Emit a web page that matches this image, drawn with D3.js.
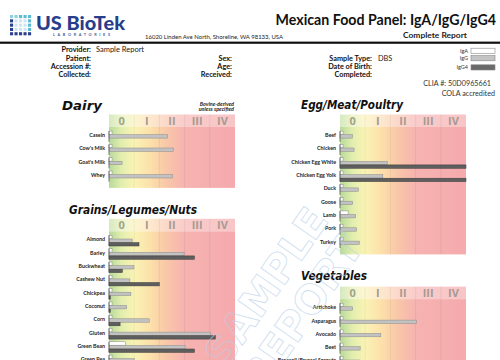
<!DOCTYPE html>
<html><head><meta charset="utf-8">
<script src="https://cdn.jsdelivr.net/npm/d3@7"></script>
<style>body{margin:0;background:#fff} svg{display:block}</style>
</head><body>
<svg id="c" width="500" height="360"></svg>
<script>
// ---------- data ----------
const classLabels = ["0","I","II","III","IV"];
const seriesNames = ["IgA","IgG","IgG4"];

const dairyFoods = ["Casein","Cow's Milk","Goat's Milk","Whey"];
const dairyIgA  = [0.12,0.12,0.12,0.12];
const dairyIgG  = [2.33,2.55,0.52,2.52];
const dairyIgG4 = [0,0,0,0];

const eggFoods = ["Beef","Chicken","Chicken Egg White","Chicken Egg Yolk","Duck","Goose","Lamb","Pork","Turkey"];
const eggIgA  = [0.12,0.12,0.12,0.12,0.12,0.12,0.32,0.12,0.12];
const eggIgG  = [0.49,0.56,1.88,1.70,0.73,0.50,0.62,0.66,0.77];
const eggIgG4 = [0,0,5,5,0,0,0,0,0];

const grainFoods = ["Almond","Barley","Buckwheat","Cashew Nut","Chickpea","Coconut","Corn","Gluten","Green Bean","Green Pea"];
const grainIgA  = [0.12,0.12,0.12,0.12,0.12,0.12,0.12,0.12,0.65,0.12];
const grainIgG  = [0.92,2.98,0.99,0.83,0.87,0.70,1.60,4.03,3.02,1.00];
const grainIgG4 = [1.19,3.39,0.53,2.00,0.05,0.05,0.44,4.22,3.39,0.50];

const vegFoods = ["Artichoke","Asparagus","Avocado","Beet","Broccoli/Brussel Sprouts"];
const vegIgA  = [0.12,0.12,0.12,0.12,0.12];
const vegIgG  = [0.50,3.03,1.62,0.80,0.80];
const vegIgG4 = [0,0,0,0,0];

// ---------- drawing ----------
const svg = d3.select("#c");
svg.append("rect").attr("width",500).attr("height",360).attr("fill","#fff");
const defs = svg.append("defs");
function grad(id, stops){
  const g = defs.append("linearGradient").attr("id",id).attr("x1","0").attr("x2","1").attr("y1","0").attr("y2","0");
  stops.forEach(s=>g.append("stop").attr("offset",s[0]).attr("stop-color",s[1]));
}
grad("gBody",[[0,"#b7d99a"],[0.1,"#e2eeae"],[0.2,"#faf3b4"],[0.33,"#fce0aa"],[0.45,"#f9c8a8"],[0.6,"#f6b3b0"],[1,"#f5aaae"]]);
grad("gHead",[[0,"#d6e9c0"],[0.1,"#eef4cf"],[0.2,"#fcf6d0"],[0.33,"#fde8cc"],[0.45,"#fbd9cb"],[0.6,"#f9cccb"],[1,"#f8c5c7"]]);

const SANS = "Lato, 'Open Sans', sans-serif";

// Logo
const logo = svg.append("g");
const dotCols = d3.range(5), dotRows = d3.range(5);
const dotColor = (c,r)=>{
  if (r===0) return c<2 ? "#8fd0dd" : "#5bbbd0";
  if (c===0 || r===4) return "#2a3f8f";
  if (c===4) return "#5bbbd0";
  return "#cfe6f2";
};
dotRows.forEach(r=>dotCols.forEach(c=>{
  logo.append("rect").attr("x",10+c*4.5).attr("y",15+r*4.3).attr("width",3.1).attr("height",3.1)
    .attr("fill",dotColor(c,r));
}));
logo.append("text").attr("x",36).attr("y",29.5).attr("font-family",SANS).attr("font-weight",900)
  .attr("font-size",18).attr("fill","#273e8c").attr("textLength",89).attr("lengthAdjust","spacingAndGlyphs").text("US BioTek");
logo.append("text").attr("x",53).attr("y",36).attr("font-family",SANS).attr("font-weight",700)
  .attr("font-size",3.8).attr("fill","#3a5aa0").attr("textLength",57).attr("lengthAdjust","spacing").text("LABORATORIES");

svg.append("text").attr("x",145).attr("y",38.5).attr("font-family",SANS).attr("font-size",5.2).attr("fill","#222")
  .attr("textLength",138).attr("lengthAdjust","spacingAndGlyphs").text("16020 Linden Ave North, Shoreline, WA 98133, USA");

svg.append("text").attr("x",496).attr("y",25).attr("text-anchor","end").attr("font-family",SANS)
  .attr("font-weight",700).attr("font-size",14.2).attr("fill","#111")
  .text("Mexican Food Panel: IgA/IgG/IgG4");
svg.append("text").attr("x",467).attr("y",38).attr("text-anchor","end").attr("font-family",SANS)
  .attr("font-weight",700).attr("font-size",8).attr("fill","#222").attr("textLength",64).attr("lengthAdjust","spacingAndGlyphs")
  .text("Complete Report");

svg.append("rect").attr("x",0).attr("y",41.6).attr("width",500).attr("height",2.2).attr("fill","#111");

// info block
const infoL = [["Provider:",52],["Patient:",60.5],["Accession #:",68.7],["Collected:",76.8]];
const infoM = [["Sex:",60.5],["Age:",68.7],["Received:",76.8]];
const infoR = [["Sample Type:",60.5],["Date of Birth:",68.7],["Completed:",76.8]];
function infoCol(arr, xr){
  arr.forEach(d=>svg.append("text").attr("x",xr).attr("y",d[1]).attr("text-anchor","end")
    .attr("font-family",SANS).attr("font-weight",700).attr("font-size",7.3).attr("fill","#111").text(d[0]));
}
infoCol(infoL,91); infoCol(infoM,232); infoCol(infoR,372);
svg.append("text").attr("x",96).attr("y",52).attr("font-family",SANS).attr("font-size",7.5).attr("fill","#222").text("Sample Report");
svg.append("text").attr("x",378).attr("y",60.5).attr("font-family",SANS).attr("font-size",7.3).attr("fill","#222").text("DBS");

// legend
const legFill = {IgA:"#ffffff", IgG:"#c4c4c4", IgG4:"#6a6a6a"};
const legY = [48.2,55.6,64.8];
seriesNames.forEach((s,i)=>{
  svg.append("rect").attr("x",471).attr("y",legY[i]).attr("width",24).attr("height",5.2)
    .attr("fill",legFill[s]).attr("stroke","#888").attr("stroke-width",0.6);
  svg.append("text").attr("x",468).attr("y",legY[i]+4.6).attr("text-anchor","end").attr("font-family",SANS)
    .attr("font-size",5.5).attr("fill","#333").text(s);
});
svg.append("text").attr("x",491).attr("y",85.5).attr("text-anchor","end").attr("font-family",SANS)
  .attr("font-size",7.2).attr("fill","#333").text("CLIA #: 50D0965661");
svg.append("text").attr("x",495).attr("y",96).attr("text-anchor","end").attr("font-family",SANS)
  .attr("font-size",7.2).attr("fill","#333").text("COLA accredited");

// panels
function panel(p){
  const n = p.foods.length;
  const x = d3.scaleLinear().domain([0,5]).range([p.left, p.left+126]);
  const g = svg.append("g");
  const hdrH = 12.5, bodyTop = p.top + hdrH;
  const step = 13.3, first = 8.5;
  const bodyBottom = bodyTop + first + (n-1)*step + 12.5;
  g.append("rect").attr("x",x(0)).attr("y",p.top).attr("width",x(5)-x(0)).attr("height",hdrH).attr("fill","url(#gHead)");
  g.append("rect").attr("x",x(0)).attr("y",bodyTop).attr("width",x(5)-x(0)).attr("height",bodyBottom-bodyTop).attr("fill","url(#gBody)");
  g.selectAll("line.col").data(d3.range(1,5)).join("line")
    .attr("x1",d=>x(d)).attr("x2",d=>x(d)).attr("y1",p.top).attr("y2",bodyBottom)
    .attr("stroke","#000").attr("stroke-opacity",0.07).attr("stroke-width",0.8);
  g.selectAll("text.cl").data(classLabels).join("text")
    .attr("x",(d,i)=>x(i+0.5)).attr("y",p.top+10.3).attr("text-anchor","middle")
    .attr("font-family","'Open Sans', sans-serif").attr("font-weight",700).attr("font-size",11)
    .attr("fill",(d,i)=>i===0?"#9fa585":"#a79a92").text(d=>d);
  // title
  g.append("text").attr("x",p.titleX).attr("y",p.titleY).attr("font-family","'DejaVu Sans', sans-serif")
    .attr("font-weight",700).attr("font-style","italic").attr("font-size",11.5).attr("fill","#111")
    .attr("textLength",p.titleLen).attr("lengthAdjust","spacingAndGlyphs").text(p.title);

  const y = d3.scalePoint().domain(p.foods).range([bodyTop+first, bodyTop+first+(n-1)*step]);
  const inner = d3.scaleBand().domain(seriesNames).range([-4.4,6.2]).paddingInner(0.06);
  const vals = {IgA:p.iga, IgG:p.igg, IgG4:p.igg4};
  const rows = g.selectAll("g.row").data(p.foods).join("g").attr("transform",d=>`translate(0,${y(d)})`);
  rows.append("text").attr("x",x(0)-4).attr("y",-0.2).attr("dy","0.35em").attr("text-anchor","end")
    .attr("font-family",SANS).attr("font-weight",700).attr("font-size",5.3).attr("fill","#222").text(d=>d);
  rows.each(function(food,i){
    const r = d3.select(this);
    seriesNames.forEach(s=>{
      const v = vals[s][i];
      if (v<=0) return;
      r.append("rect").attr("x",x(0)).attr("y",inner(s)).attr("width",x(v)-x(0)).attr("height",inner.bandwidth())
        .attr("fill",s==="IgA"?"#ffffff":s==="IgG"?"#c2c2c2":"#5e5e5e")
        .attr("stroke",s==="IgG4"?"#3c3c3c":"#8a8a8a").attr("stroke-width",0.5);
    });
    r.append("line").attr("x1",x(0)).attr("x2",x(0)).attr("y1",-4.4).attr("y2",6.2)
      .attr("stroke","#555").attr("stroke-width",0.8);
  });
}

panel({title:"Dairy",titleX:62,titleY:109.5,titleLen:40,left:109,top:114.5,foods:dairyFoods,iga:dairyIgA,igg:dairyIgG,igg4:dairyIgG4});
panel({title:"Egg/Meat/Poultry",titleX:301,titleY:108.5,titleLen:102,left:340,top:114.5,foods:eggFoods,iga:eggIgA,igg:eggIgG,igg4:eggIgG4});
panel({title:"Grains/Legumes/Nuts",titleX:69,titleY:214,titleLen:128,left:109,top:218.8,foods:grainFoods,iga:grainIgA,igg:grainIgG,igg4:grainIgG4});
panel({title:"Vegetables",titleX:301,titleY:280,titleLen:66,left:340,top:286.6,foods:vegFoods,iga:vegIgA,igg:vegIgG,igg4:vegIgG4});

// bovine note
svg.append("text").attr("x",234).attr("y",105.5).attr("text-anchor","end").attr("font-family",SANS)
  .attr("font-style","italic").attr("font-weight",700).attr("font-size",5.4).attr("fill","#222").text("Bovine-derived");
svg.append("text").attr("x",234).attr("y",111.2).attr("text-anchor","end").attr("font-family",SANS)
  .attr("font-style","italic").attr("font-weight",700).attr("font-size",5.4).attr("fill","#222").text("unless specified");

// watermark
const wm = svg.append("g").attr("transform","translate(285,300) rotate(-55)").attr("opacity",0.7);
[["SAMPLE",-20],["REPORT",24]].forEach(d=>{
  wm.append("text").attr("x",0).attr("y",d[1]).attr("text-anchor","middle").attr("dominant-baseline","middle")
    .attr("font-family","'DejaVu Sans', sans-serif").attr("font-weight",700).attr("font-size",40)
    .attr("fill","none").attr("stroke","#b7d0ea").attr("stroke-width",0.8).text(d[0]);
});
</script>
</body></html>
